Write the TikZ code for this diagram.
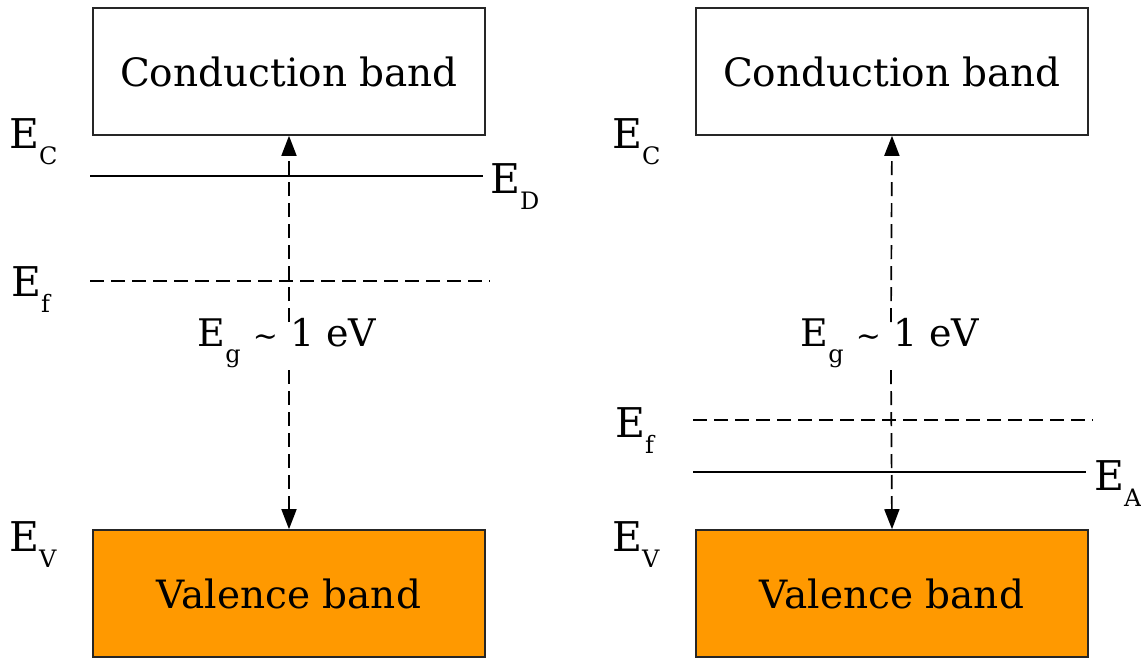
\documentclass[tikz,border=0pt]{standalone}
\usepackage{fontspec}
\setmainfont{DejaVu Serif}
\usetikzlibrary{arrows.meta}
\definecolor{vband}{HTML}{FF9900}
\newcommand{\lvl}[1]{E\raisebox{-16pt}{\fontsize{24}{24}\selectfont #1}}
\begin{document}
\begin{tikzpicture}[x=1pt,y=-1pt,
  band/.style={draw=black!85,line width=1.6pt,minimum width=392pt,minimum height=127pt,inner sep=0pt,font=\fontsize{39}{39}\selectfont},
  lab/.style={anchor=base west,inner sep=0pt,font=\fontsize{41}{41}\selectfont},
  eglab/.style={anchor=base,inner sep=0pt,font=\fontsize{38}{38}\selectfont},
  level/.style={line width=1.7pt},
  dlevel/.style={line width=1.7pt,dash pattern=on 14pt off 7pt},
  gap/.style={line width=1.7pt,dash pattern=on 14pt off 7pt,-{Triangle[length=20pt,width=15pt]}}]
\useasboundingbox (0,0) rectangle (1141,659);
% left panel
\node[band] (cbL) at (289,71.5) {Conduction band};
\node[band,fill=vband] (vbL) at (289,593.5) {Valence band};
\node[lab] (ecL) at (9,148) {\lvl{C}};
\node[lab] (evL) at (9,551) {\lvl{V}};
\node[lab] (efL) at (11,296) {\lvl{f}};
\node[lab] (edL) at (490,193) {\lvl{D}};
\coordinate (edLa) at (90,176);
\coordinate (edLb) at (483,176);
\coordinate (efLa) at (90,281);
\coordinate (efLb) at (490,281);
\draw[level] (edLa) -- (edLb);
\draw[dlevel] (efLa) -- (efLb);
\node[eglab] (egL) at (287,346) {\lvl{g} {\fontsize{30}{30}\selectfont\textasciitilde} 1 eV};
\coordinate (gL1) at (289,322);
\coordinate (gL2) at (289,370);
\draw[gap] (gL1) -- (cbL.south);
\draw[gap] (gL2) -- (vbL.north);
% right panel
\node[band] (cbR) at (892,71.5) {Conduction band};
\node[band,fill=vband] (vbR) at (892,593.5) {Valence band};
\node[lab] (ecR) at (612,148) {\lvl{C}};
\node[lab] (evR) at (612,551) {\lvl{V}};
\node[lab] (efR) at (615,437) {\lvl{f}};
\node[lab] (eaR) at (1094,490) {\lvl{A}};
\coordinate (efRa) at (693,420);
\coordinate (efRb) at (1093,420);
\coordinate (eaRa) at (693,472);
\coordinate (eaRb) at (1086,472);
\draw[dlevel] (efRa) -- (efRb);
\draw[level] (eaRa) -- (eaRb);
\node[eglab] (egR) at (890,346) {\lvl{g} {\fontsize{30}{30}\selectfont\textasciitilde} 1 eV};
\coordinate (gR1) at (891,322);
\coordinate (gR2) at (891,370);
\draw[gap] (gR1) -- (cbR.south);
\draw[gap] (gR2) -- (vbR.north);
\end{tikzpicture}
\end{document}
